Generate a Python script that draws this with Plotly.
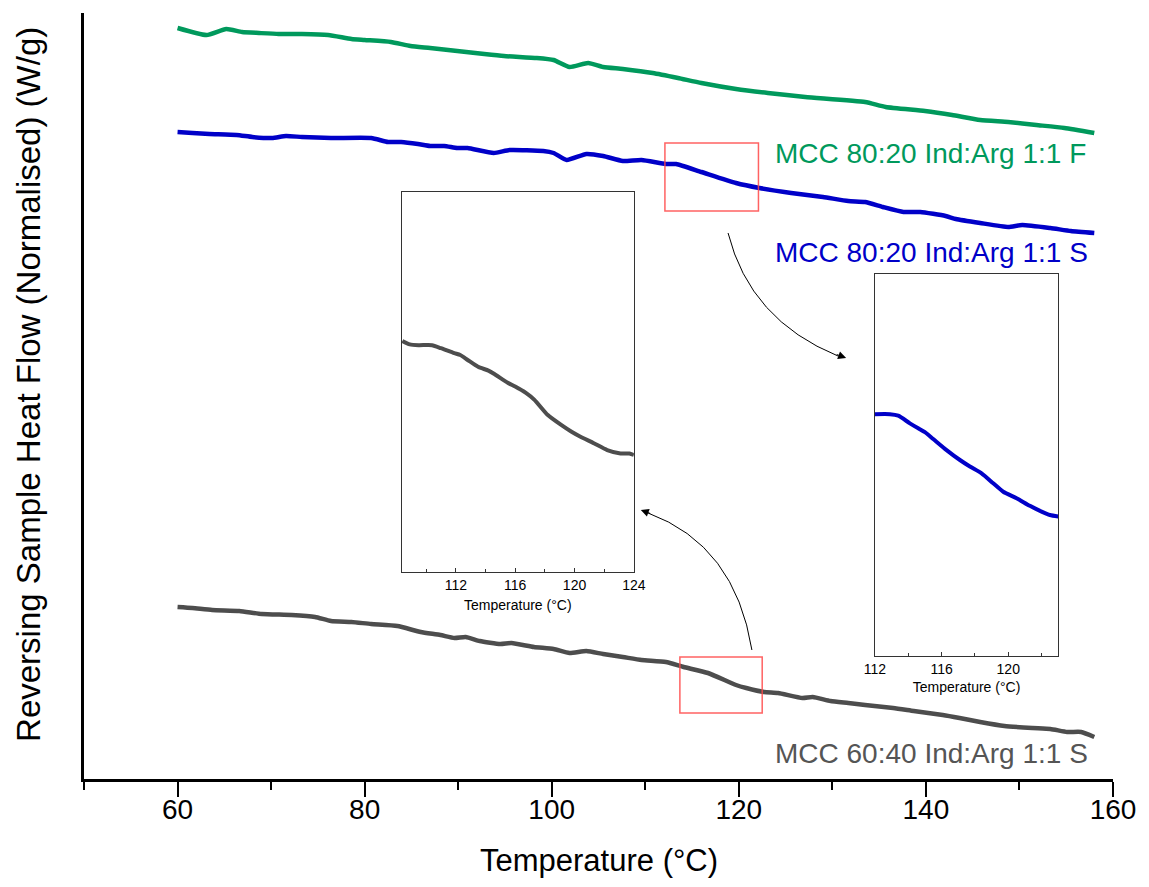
import plotly.graph_objects as go

# ---------------- data ----------------
# Main chart: temperature (°C) and reversing heat flow (normalised, arbitrary units)
t_f = [60.0, 63.1, 65.2, 66.9, 68.7, 70.8, 73.3, 76.1, 78.6, 80.0,
       82.8, 84.9, 87.0, 89.9, 92.8, 94.9, 98.4, 100.2, 101.9, 103.9,
       105.5, 107.6, 110.8, 113.5, 116.0, 119.7, 123.1, 127.1, 133.5, 135.7,
       139.9, 142.8, 145.8, 148.8, 151.8, 154.8, 158.0]
hf_f = [7.51, 7.44, 7.50, 7.47, 7.46, 7.45, 7.45, 7.44, 7.40, 7.39,
        7.37, 7.33, 7.31, 7.28, 7.25, 7.23, 7.21, 7.19, 7.12, 7.16,
        7.12, 7.10, 7.06, 7.01, 6.96, 6.90, 6.86, 6.82, 6.77, 6.72,
        6.68, 6.64, 6.59, 6.57, 6.54, 6.51, 6.46]

t_s80 = [60.0, 61.6, 63.4, 66.3, 68.0, 70.1, 71.6, 73.3, 76.4, 80.7,
         82.5, 83.9, 85.7, 87.0, 88.5, 89.9, 91.0, 93.8, 95.5, 99.1,
         100.2, 101.6, 103.7, 105.5, 107.6, 109.6, 112.2, 113.3, 116.0, 119.7,
         122.2, 125.6, 129.0, 131.7, 133.5, 135.4, 137.6, 139.4, 142.1, 143.2,
         145.8, 148.8, 150.3, 153.3, 155.5, 158.0]
hf_s80 = [6.47, 6.46, 6.45, 6.44, 6.42, 6.41, 6.43, 6.42, 6.41, 6.41,
          6.37, 6.37, 6.35, 6.33, 6.33, 6.31, 6.31, 6.26, 6.29, 6.28,
          6.26, 6.19, 6.25, 6.23, 6.18, 6.19, 6.15, 6.15, 6.07, 5.96,
          5.91, 5.86, 5.82, 5.78, 5.77, 5.72, 5.67, 5.67, 5.63, 5.60,
          5.56, 5.52, 5.54, 5.51, 5.48, 5.46]

t_s60 = [60.0, 61.6, 63.7, 66.6, 69.0, 72.2, 74.7, 76.4, 78.6, 80.7,
         83.5, 86.0, 88.1, 89.6, 90.8, 92.3, 94.5, 95.7, 98.1, 100.2,
         101.9, 103.7, 105.5, 107.6, 109.6, 112.2, 114.1, 116.7, 119.7, 120.8,
         122.7, 124.2, 126.8, 127.9, 129.8, 131.7, 133.5, 136.5, 138.7, 141.8,
         143.6, 145.8, 148.4, 151.4, 153.3, 155.1, 156.6, 158.0]
hf_s60 = [1.72, 1.71, 1.69, 1.68, 1.65, 1.64, 1.62, 1.58, 1.57, 1.55,
          1.53, 1.47, 1.44, 1.41, 1.42, 1.38, 1.35, 1.36, 1.32, 1.30,
          1.26, 1.28, 1.25, 1.22, 1.19, 1.17, 1.12, 1.06, 0.94, 0.91,
          0.87, 0.86, 0.81, 0.82, 0.78, 0.76, 0.74, 0.71, 0.68, 0.64,
          0.61, 0.57, 0.53, 0.51, 0.50, 0.47, 0.47, 0.42]

# Inset (zoom) of MCC 60:40 S
t_zoom60 = [108.4, 108.9, 109.5, 110.4, 111.0, 111.9, 112.3, 112.8, 113.5, 114.2,
            114.6, 115.5, 116.0, 116.7, 117.3, 118.2, 119.1, 119.8, 120.4, 121.3,
            122.2, 123.1, 123.7, 124.0]
hf_zoom60 = [0.608, 0.599, 0.597, 0.597, 0.589, 0.576, 0.571, 0.558, 0.540, 0.530,
             0.521, 0.498, 0.488, 0.472, 0.453, 0.413, 0.387, 0.369, 0.356, 0.339,
             0.321, 0.312, 0.312, 0.308]

# Inset (zoom) of MCC 80:20 S
t_zoom80 = [112.0, 112.9, 113.4, 114.1, 114.6, 115.0, 115.5, 116.3, 117.1, 117.7,
            118.4, 119.1, 119.7, 120.5, 121.3, 122.0, 122.5, 123.0]
hf_zoom80 = [0.633, 0.633, 0.629, 0.609, 0.596, 0.586, 0.568, 0.539, 0.513, 0.496,
             0.478, 0.452, 0.430, 0.413, 0.393, 0.378, 0.369, 0.365]

main_ticks = [60, 80, 100, 120, 140, 160]
main_minor = [50, 70, 90, 110, 130, 150]
zoom60_ticks = [112, 116, 120, 124]
zoom60_minor = [110, 114, 118, 122]
zoom80_ticks = [112, 116, 120]
zoom80_minor = [114, 118, 122]

labels = ["MCC 80:20 Ind:Arg 1:1 F", "MCC 80:20 Ind:Arg 1:1 S", "MCC 60:40 Ind:Arg 1:1 S"]
label_pos = [(123.7, 6.26), (123.7, 5.27), (123.7, 0.26)]

# zoom regions on main plot (x0, x1, y0, y1)
box80 = (112.1, 122.1, 5.68, 6.36)
box60 = (113.7, 122.5, 0.66, 1.22)

GREEN = "#00995C"
BLUE = "#0000C8"
GRAY = "#4D4D4D"
FONT = "Liberation Sans, Arial, sans-serif"

fig = go.Figure()
fig.add_trace(go.Scatter(x=t_f, y=hf_f, mode="lines", line=dict(color=GREEN, width=4.5, shape="spline", smoothing=0.5), showlegend=False))
fig.add_trace(go.Scatter(x=t_s80, y=hf_s80, mode="lines", line=dict(color=BLUE, width=4.5, shape="spline", smoothing=0.5), showlegend=False))
fig.add_trace(go.Scatter(x=t_s60, y=hf_s60, mode="lines", line=dict(color=GRAY, width=4.5, shape="spline", smoothing=0.5), showlegend=False))
fig.add_trace(go.Scatter(x=t_zoom60, y=hf_zoom60, mode="lines", xaxis="x2", yaxis="y2",
                         line=dict(color=GRAY, width=4, shape="spline", smoothing=0.6), showlegend=False))
fig.add_trace(go.Scatter(x=t_zoom80, y=hf_zoom80, mode="lines", xaxis="x3", yaxis="y3",
                         line=dict(color=BLUE, width=4, shape="spline", smoothing=0.6), showlegend=False))

inset_axis = dict(showline=True, mirror=True, linecolor="#333333", linewidth=1, showgrid=False, zeroline=False)

# page body has an 8px margin, so the figure is 16px smaller than the window
fig.update_layout(
    width=1133, height=871,
    margin=dict(l=76, r=24, t=5, b=100),
    paper_bgcolor="white", plot_bgcolor="white",
    font=dict(family=FONT, color="black"),
    xaxis=dict(range=[50, 160], showgrid=False, zeroline=False, showline=True, linecolor="black", linewidth=3,
               tickvals=main_ticks, ticks="outside", ticklen=15, tickwidth=2, tickcolor="black",
               tickfont=dict(size=28, family=FONT), ticklabelstandoff=-12, ticklabeloverflow="allow",
               minor=dict(tickvals=main_minor, ticks="outside", ticklen=8, tickwidth=2, tickcolor="black")),
    yaxis=dict(range=[0, 7.66], showgrid=False, zeroline=False, showline=True, linecolor="black", linewidth=3,
               showticklabels=False, ticks=""),
    xaxis2=dict(inset_axis, domain=[0.3088, 0.5344], anchor="y2", range=[108.36, 124.0],
                tickvals=zoom60_ticks, ticks="inside", ticklen=4, tickcolor="#333333",
                tickfont=dict(size=14, family=FONT),
                minor=dict(tickvals=zoom60_minor, ticks="inside", ticklen=3, tickcolor="#333333"),
                title=dict(text="Temperature (°C)", font=dict(size=14, family=FONT), standoff=8)),
    yaxis2=dict(inset_axis, domain=[0.2702, 0.7663], anchor="x2", range=[0, 1], showticklabels=False, ticks=""),
    xaxis3=dict(inset_axis, domain=[0.7686, 0.9468], anchor="y3", range=[112.0, 123.0],
                tickvals=zoom80_ticks, ticks="inside", ticklen=4, tickcolor="#333333",
                tickfont=dict(size=14, family=FONT),
                minor=dict(tickvals=zoom80_minor, ticks="inside", ticklen=3, tickcolor="#333333"),
                title=dict(text="Temperature (°C)", font=dict(size=14, family=FONT), standoff=6)),
    yaxis3=dict(inset_axis, domain=[0.1606, 0.6593], anchor="x3", range=[0, 1], showticklabels=False, ticks=""),
)

# axis titles as annotations
fig.add_annotation(text="Temperature (°C)", xref="paper", yref="paper", x=0.5005, y=-0.107,
                   showarrow=False, font=dict(size=31, family=FONT, color="black"), xanchor="center", yanchor="middle")
fig.add_annotation(text="Reversing Sample Heat Flow (Normalised) (W/g)", xref="paper", yref="paper",
                   x=-0.054, y=0.515, textangle=-90, showarrow=False,
                   font=dict(size=33, family=FONT, color="black"), xanchor="center", yanchor="middle")

# series labels
for txt, (lx, ly), col in zip(labels, label_pos, [GREEN, BLUE, "#555555"]):
    fig.add_annotation(text=txt, x=lx, y=ly, xref="x", yref="y", showarrow=False, xanchor="left", yanchor="middle",
                       font=dict(size=28, family=FONT, color=col))

# red zoom boxes
for b in (box80, box60):
    fig.add_shape(type="rect", xref="x", yref="y", x0=b[0], x1=b[1], y0=b[2], y1=b[3],
                  line=dict(color="rgba(255,70,70,0.85)", width=1.5), fillcolor="rgba(0,0,0,0)", layer="above")

# curved arrows
fig.add_shape(type="path", xref="x", yref="y", path="M 118.85,5.46 Q 121.19,4.59 130.6,4.23",
              line=dict(color="black", width=1))
fig.add_annotation(x=131.47, y=4.21, ax=130.31, ay=4.25, xref="x", yref="y", axref="x", ayref="y",
                   showarrow=True, arrowhead=2, arrowsize=1.6, arrowwidth=1, arrowcolor="black", text="")
fig.add_shape(type="path", xref="x", yref="y", path="M 121.40,1.29 Q 119.60,2.34 110.3,2.66",
              line=dict(color="black", width=1))
fig.add_annotation(x=109.52, y=2.69, ax=110.69, ay=2.65, xref="x", yref="y", axref="x", ayref="y",
                   showarrow=True, arrowhead=2, arrowsize=1.6, arrowwidth=1, arrowcolor="black", text="")

fig.write_html("out.html", config={"displayModeBar": False})
